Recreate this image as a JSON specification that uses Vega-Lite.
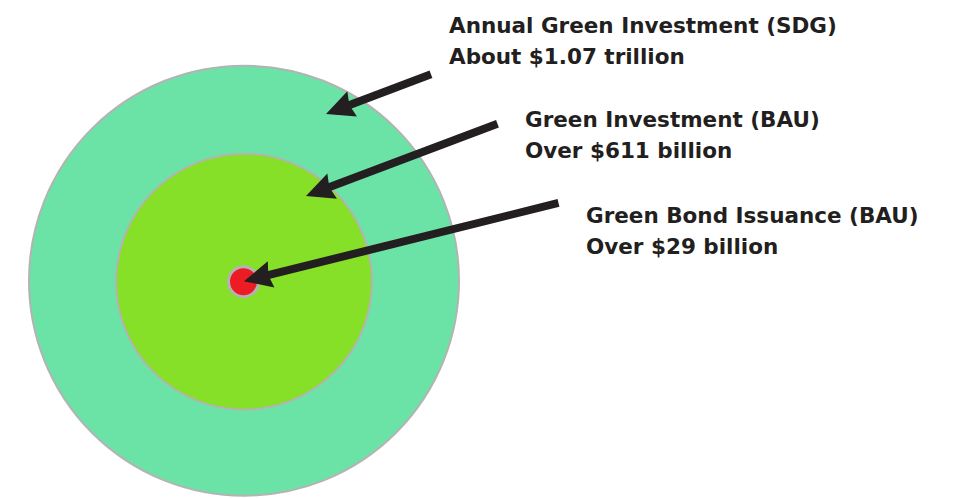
{
  "$schema": "https://vega.github.io/schema/vega-lite/v6.json",
  "autosize": {"type": "fit", "contains": "padding"},
  "width": 961,
  "height": 498,
  "padding": 0,
  "background": "white",
  "config": {"view": {"stroke": null}},
  "datasets": {
    "circles": [
      {"name": "Annual Green Investment (SDG)", "value": 1070, "cx": 244, "cy": 283.5},
      {"name": "Green Investment (BAU)", "value": 611, "cx": 244, "cy": 284.5},
      {"name": "Green Bond Issuance (BAU)", "value": 29, "cx": 243.5, "cy": 284.5}
    ],
    "arrows": [
      {"name": "Annual Green Investment (SDG)", "tx": 431, "ty": 75, "hx": 334.4, "hy": 111.8, "angle": 339.15},
      {"name": "Green Investment (BAU)", "tx": 497.5, "ty": 125, "hx": 314.4, "hy": 194.8, "angle": 339.1},
      {"name": "Green Bond Issuance (BAU)", "tx": 558.5, "ty": 205, "hx": 252.7, "hy": 281.8, "angle": 345.9}
    ],
    "labels": [
      {"lx": 449, "ly": 33, "text": "Annual Green Investment (SDG)\nAbout $1.07 trillion"},
      {"lx": 525, "ly": 128, "text": "Green Investment (BAU)\nOver $611 billion"},
      {"lx": 586, "ly": 225, "text": "Green Bond Issuance (BAU)\nOver $29 billion"}
    ]
  },
  "layer": [
    {
      "data": {"name": "circles"},
      "mark": {"type": "point", "shape": "circle", "filled": true, "opacity": 1, "stroke": "#b3b3b3", "strokeOpacity": 1},
      "encoding": {
        "x": {"field": "cx", "type": "quantitative", "scale": {"domain": [0, 961], "nice": false, "zero": false}, "axis": null},
        "y": {"field": "cy", "type": "quantitative", "scale": {"domain": [0, 498], "nice": false, "zero": false, "reverse": true}, "axis": null},
        "size": {"field": "value", "type": "quantitative", "scale": {"type": "linear", "domain": [29, 611, 1070], "range": [900, 65536, 184900]}, "legend": null},
        "color": {"field": "name", "type": "nominal", "scale": {"domain": ["Annual Green Investment (SDG)", "Green Investment (BAU)", "Green Bond Issuance (BAU)"], "range": ["#6ce3a6", "#86e027", "#ed1c24"]}, "legend": null},
        "strokeWidth": {"condition": {"test": "datum.value < 100", "value": 3}, "value": 2},
        "order": {"field": "value", "type": "quantitative", "sort": "descending"}
      }
    },
    {
      "data": {"name": "arrows"},
      "mark": {"type": "rule", "color": "#231f20", "strokeWidth": 8, "strokeCap": "butt"},
      "encoding": {
        "x": {"field": "tx", "type": "quantitative"},
        "y": {"field": "ty", "type": "quantitative"},
        "x2": {"field": "hx"},
        "y2": {"field": "hy"}
      }
    },
    {
      "data": {"name": "arrows"},
      "mark": {"type": "point", "filled": true, "opacity": 1, "color": "#231f20", "strokeWidth": 0, "size": 400, "shape": "M-0.9,0L1.9,-1.35L1.6,0L1.9,1.35Z"},
      "encoding": {
        "x": {"field": "hx", "type": "quantitative"},
        "y": {"field": "hy", "type": "quantitative"},
        "angle": {"field": "angle", "type": "quantitative", "scale": null}
      }
    },
    {
      "data": {"name": "labels"},
      "mark": {"type": "text", "align": "left", "baseline": "alphabetic", "font": "DejaVu Sans", "fontWeight": "bold", "fontSize": 21.5, "lineHeight": 31, "lineBreak": "\n", "color": "#231f20"},
      "encoding": {
        "x": {"field": "lx", "type": "quantitative"},
        "y": {"field": "ly", "type": "quantitative"},
        "text": {"field": "text", "type": "nominal"}
      }
    }
  ]
}
